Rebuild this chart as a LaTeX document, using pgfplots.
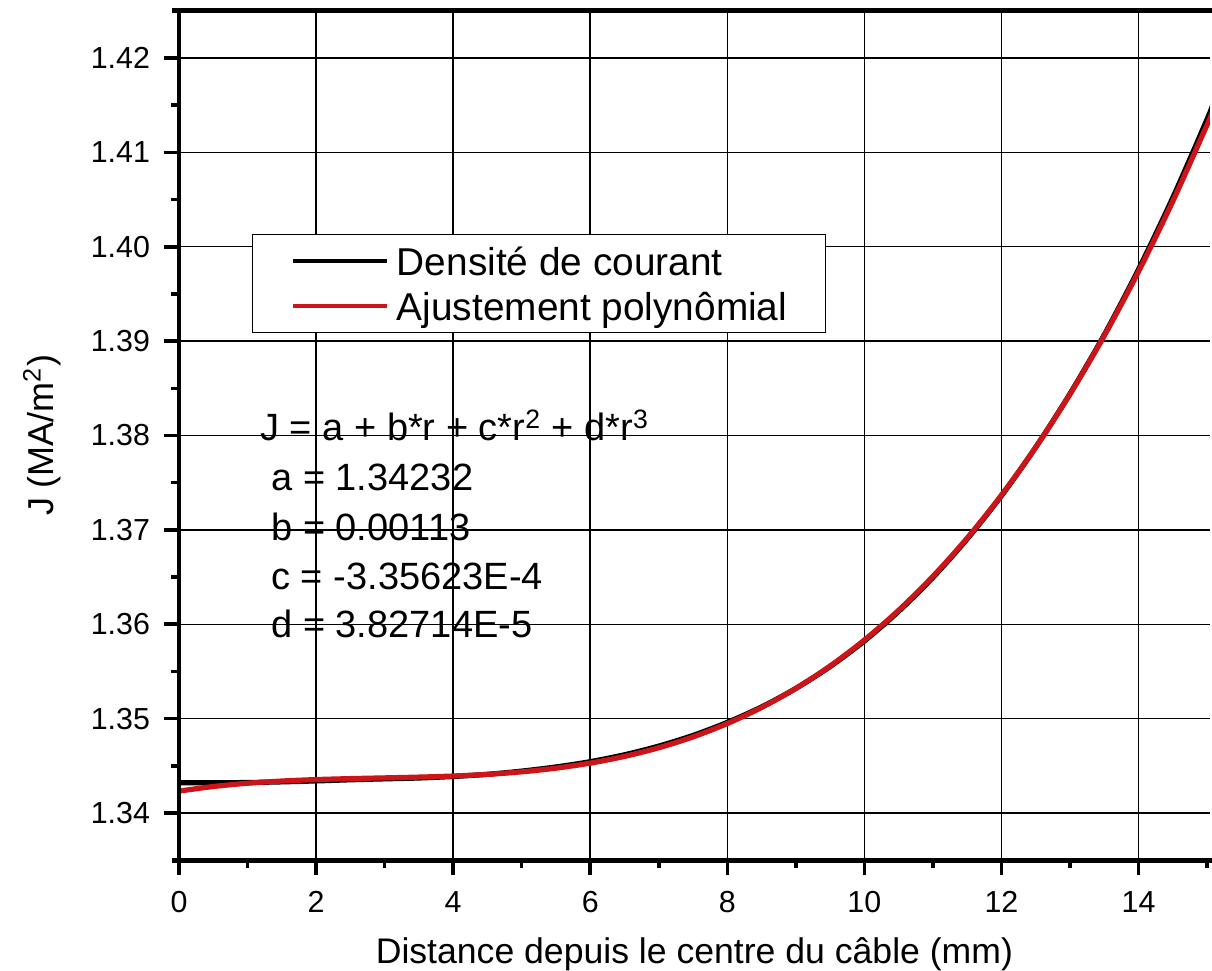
\documentclass[border=0pt]{standalone}
\usepackage{pgfplots}
\pgfplotsset{compat=1.18}
\usepackage{fontspec}
\setmainfont{Liberation Sans}
\definecolor{fitred}{RGB}{205,20,25}

\pgfplotstableread{
x y
0 1.34320
0.5 1.34321
1 1.34323
1.5 1.34330
2 1.34340
2.5 1.34352
3 1.34362
3.5 1.34371
4 1.34387
4.5 1.34410
5 1.34444
5.5 1.34488
6 1.34544
6.5 1.34617
7 1.34709
7.5 1.34822
8 1.34960
8.5 1.35124
9 1.35320
9.5 1.35552
10 1.35823
10.5 1.36137
11 1.36496
11.5 1.36904
12 1.37362
12.5 1.37875
13 1.38443
13.5 1.39067
14 1.39760
14.5 1.40520
15 1.41350
15.1 1.41540
}\densite

\pgfplotstableread{
x y
0 1.342320
0.5 1.342806
1 1.343153
1.5 1.343389
2 1.343544
2.5 1.343645
3 1.343723
3.5 1.343805
4 1.343919
4.5 1.344096
5 1.344363
5.5 1.344750
6 1.345284
6.5 1.345995
7 1.346912
7.5 1.348062
8 1.349475
8.5 1.351180
9 1.353204
9.5 1.355578
10 1.358329
10.5 1.361486
11 1.365079
11.5 1.369135
12 1.373683
12.5 1.378753
13 1.384372
13.5 1.390570
14 1.397375
14.5 1.404815
15 1.412921
15.1 1.414623
}\ajust

\begin{document}
\begin{tikzpicture}
\begin{axis}[
  name=ax,
  scale only axis,
  width=515.4pt, height=424.7pt,
  xmin=0, xmax=15.04, ymin=1.335, ymax=1.425,
  axis x line=box, axis y line=left,
  separate axis lines,
  axis line style={-},
  every outer x axis line/.append style={line width=2.4pt},
  every inner x axis line/.append style={line width=2.4pt},
  every outer y axis line/.append style={line width=2.4pt},
  every inner y axis line/.append style={line width=2.4pt},
  xtick={0,2,4,6,8,10,12,14},
  minor xtick={1,3,5,7,9,11,13,15},
  ytick={1.34,1.35,1.36,1.37,1.38,1.39,1.40,1.41,1.42},
  minor ytick={1.345,1.355,1.365,1.375,1.385,1.395,1.405,1.415},
  tick align=outside, xtick pos=left, ytick pos=left,
  major tick length=7.5pt, minor tick length=4pt,
  tick style={black, line width=1.8pt},
  major tick style={line width=1.8pt},
  minor tick style={line width=1.8pt},
  grid=major, major grid style={black, line width=0.75pt},
  scaled y ticks=false,
  ticklabel style={font=\fontsize{15.2}{18}\selectfont},
  xticklabel style={yshift=-4.5pt},
  yticklabel style={xshift=-3.5pt, /pgf/number format/.cd, fixed, fixed zerofill, precision=2},
  /pgf/number format/assume math mode=true,
  xlabel={Distance depuis le centre du câble (mm)},
  xlabel style={at={(axis description cs:0.5,0)}, anchor=base, yshift=-51.4pt, font=\fontsize{17.8}{21}\selectfont},
  ylabel={J (MA/m\textsuperscript{2})},
  ylabel style={at={(axis description cs:-0.1331,0.5)}, rotate=0, anchor=center, font=\fontsize{18}{21}\selectfont},
  legend style={at={(0.0708,0.737)}, anchor=north west, draw=black, line width=0.5pt, fill=white,
    font=\fontsize{19.4}{23}\selectfont, inner xsep=19pt, inner ysep=4.25pt, nodes={inner sep=0pt}, row sep=5pt},
  legend cell align=left,
  legend image code/.code={\draw[#1, line width=2.2pt] (0pt,0pt) -- (47pt,0pt); \path (50.8pt,0pt);},
]
\addplot[black, line width=2.6pt, smooth] table[x=x,y=y] {\densite};
\addlegendentry{\strut Densité de courant}
\addplot[fitred, line width=2.6pt, smooth] table[x=x,y=y] {\ajust};
\addlegendentry{\strut Ajustement polynômial}

\node[anchor=base west, inner sep=0pt, font=\fontsize{19}{23}\selectfont] at (axis cs:1.18,1.37943) {J = a + b*r + c*r\textsuperscript{2} + d*r\textsuperscript{3}};
\node[anchor=base west, inner sep=0pt, font=\fontsize{19}{23}\selectfont] at (axis cs:1.343,1.37413) {a = 1.34232};
\node[anchor=base west, inner sep=0pt, font=\fontsize{19}{23}\selectfont] at (axis cs:1.343,1.36883) {b = 0.00113};
\node[anchor=base west, inner sep=0pt, font=\fontsize{19}{23}\selectfont] at (axis cs:1.343,1.36364) {c = -3.35623E-4};
\node[anchor=base west, inner sep=0pt, font=\fontsize{19}{23}\selectfont] at (axis cs:1.343,1.35856) {d = 3.82714E-5};
\end{axis}
\draw[line width=2.4pt] ([xshift=-3.5pt]ax.south west) -- ([xshift=20pt]ax.south east);
\draw[line width=2.4pt] ([xshift=-3.5pt]ax.north west) -- ([xshift=20pt]ax.north east);
\draw[line width=2.4pt] (ax.south west) -- ([yshift=1.2pt]ax.north west);
\pgfresetboundingbox
\path[use as bounding box] ([xshift=-89.5pt,yshift=-55.4pt]ax.south west) rectangle ([xshift=1.1pt,yshift=5.4pt]ax.north east);
\end{tikzpicture}
\end{document}
